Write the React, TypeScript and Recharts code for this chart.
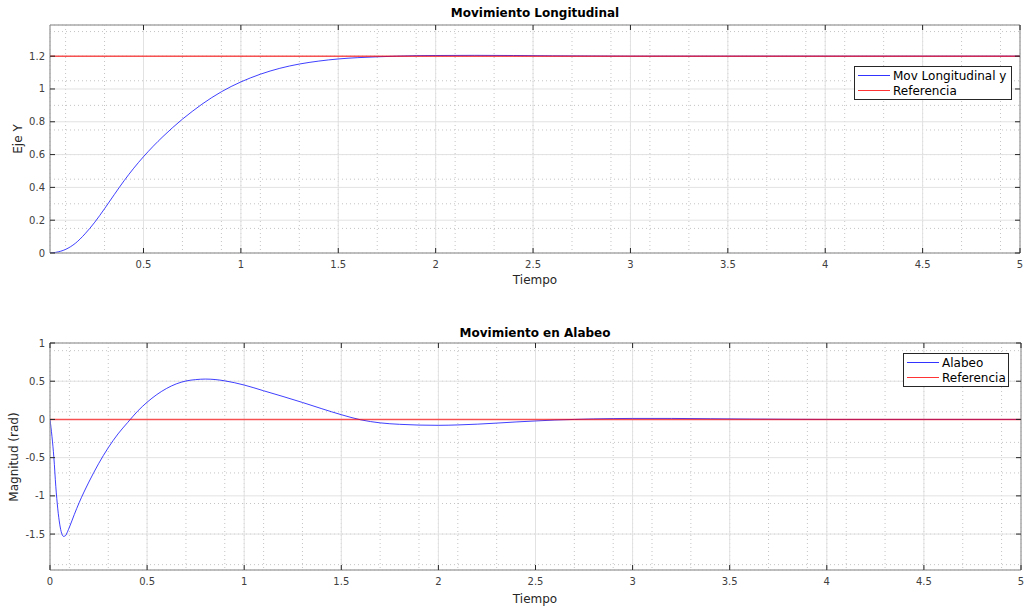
import React from "react";
import { LineChart, Line, XAxis, YAxis, CartesianGrid } from "recharts";

// Movimiento longitudinal (respuesta al escalón)
const longTime = [
  0.02, 0.05, 0.1, 0.15, 0.2, 0.25, 0.3, 0.35, 0.4, 0.45, 0.5, 0.55, 0.6, 0.65,
  0.7, 0.75, 0.8, 0.85, 0.9, 0.95, 1.0, 1.1, 1.2, 1.3, 1.4, 1.5, 1.6, 1.7, 1.8,
  1.9, 2.0, 2.2, 2.4, 2.6, 2.8, 3.0, 3.5, 4.0, 4.5, 5.0,
];
const longValues = [
  0, 0.004, 0.022, 0.059, 0.117, 0.188, 0.27, 0.356, 0.44, 0.517, 0.587, 0.651,
  0.71, 0.765, 0.816, 0.863, 0.907, 0.947, 0.983, 1.015, 1.043, 1.09, 1.126,
  1.152, 1.17, 1.183, 1.191, 1.196, 1.2, 1.203, 1.204, 1.205, 1.204, 1.202,
  1.201, 1.2, 1.2, 1.2, 1.2, 1.2,
];
const longRefTime = [0.02, 5];
const longRefValues = [1.2, 1.2];

// Movimiento en alabeo
const rollTime = [
  0, 0.01, 0.02, 0.03, 0.04, 0.05, 0.06, 0.07, 0.08, 0.09, 0.1, 0.125, 0.15,
  0.2, 0.25, 0.3, 0.35, 0.4, 0.45, 0.5, 0.55, 0.6, 0.65, 0.7, 0.75, 0.8, 0.85,
  0.9, 1.0, 1.1, 1.2, 1.3, 1.4, 1.5, 1.6, 1.7, 1.8, 1.9, 2.0, 2.1, 2.2, 2.3,
  2.4, 2.5, 2.6, 2.7, 2.8, 2.9, 3.0, 3.2, 3.4, 3.6, 3.8, 4.0, 4.5, 5.0,
];
const rollValues = [
  0, -0.22, -0.5, -0.88, -1.17, -1.37, -1.49, -1.53, -1.52, -1.47, -1.41,
  -1.245, -1.09, -0.82, -0.58, -0.37, -0.19, -0.04, 0.105, 0.225, 0.325, 0.405,
  0.465, 0.503, 0.521, 0.528, 0.522, 0.505, 0.45, 0.375, 0.3, 0.222, 0.14,
  0.062, -0.005, -0.045, -0.064, -0.074, -0.077, -0.072, -0.062, -0.048,
  -0.033, -0.02, -0.008, 0.0, 0.007, 0.011, 0.013, 0.013, 0.009, 0.005, 0.002,
  0, 0, 0,
];
const rollRefTime = [0, 5];
const rollRefValues = [0, 0];

// Ejes
const longXTicks = [0.5, 1, 1.5, 2, 2.5, 3, 3.5, 4, 4.5, 5];
const longYTicks = [0, 0.2, 0.4, 0.6, 0.8, 1, 1.2];
const rollXTicks = [0, 0.5, 1, 1.5, 2, 2.5, 3, 3.5, 4, 4.5, 5];
const rollYTicks = [-1.5, -1, -0.5, 0, 0.5, 1];

const range = (a: number, b: number, step: number) => {
  const out: number[] = [];
  for (let v = a; v <= b + 1e-9; v += step) out.push(Math.round(v * 1000) / 1000);
  return out;
};
const longMinorX = range(0.1, 4.9, 0.1);
const longMinorY = range(0.05, 1.35, 0.05);
const rollMinorX = range(0.1, 4.9, 0.1);
const rollMinorY = range(-1.9, 0.9, 0.1);

const toRows = (t: number[], y: number[]) => t.map((v, i) => ({ t: v, y: y[i] }));

const FONT = "DejaVu Sans, sans-serif";
const TICK = "#262626";
const LABEL = "#404040";
const BOX = "#8c8c8c";
const BLUE = "#0000ff";
const RED = "#ff0000";

const fmt = (v: number) => String(Math.round(v * 100) / 100);

const BottomTick = (p: any) => (
  <g>
    <line x1={p.x} x2={p.x} y1={p.y} y2={p.y - 5} stroke={TICK} />
    <text x={p.x} y={p.y + 15} textAnchor="middle" fontSize={10} fill={LABEL} fontFamily={FONT}>
      {fmt(p.payload.value)}
    </text>
  </g>
);
const TopTick = (p: any) => <line x1={p.x} x2={p.x} y1={p.y} y2={p.y + 5} stroke={TICK} />;
const LeftTick = (p: any) => (
  <g>
    <line x1={p.x} x2={p.x + 5} y1={p.y} y2={p.y} stroke={TICK} />
    <text x={p.x - 5} y={p.y} dy="0.35em" textAnchor="end" fontSize={10} fill={LABEL} fontFamily={FONT}>
      {fmt(p.payload.value)}
    </text>
  </g>
);
const RightTick = (p: any) => <line x1={p.x} x2={p.x - 5} y1={p.y} y2={p.y} stroke={TICK} />;

const LegendBox = ({ items, left, top, width }: any) => (
  <div
    style={{
      position: "absolute",
      left,
      top,
      width,
      border: "1px solid #262626",
      background: "#fff",
      fontFamily: FONT,
      fontSize: 12,
      color: "#000",
      padding: "1px 0",
      boxSizing: "border-box",
    }}
  >
    {items.map((it: any) => (
      <div key={it.name} style={{ display: "flex", alignItems: "center", height: 15 }}>
        <div style={{ flex: "none", width: 32, height: 1, marginLeft: 3, background: it.color, opacity: 0.8 }} />
        <span style={{ marginLeft: 3, whiteSpace: "nowrap" }}>{it.name}</span>
      </div>
    ))}
  </div>
);

const Text = ({ children, x, y, bold, rotate, size = 12 }: any) => (
  <div
    style={{
      position: "absolute",
      left: x,
      top: y,
      transform: `translate(-50%, -50%)${rotate ? " rotate(-90deg)" : ""}`,
      fontFamily: FONT,
      fontSize: size,
      fontWeight: bold ? "bold" : "normal",
      color: bold ? "#000" : "#262626",
      whiteSpace: "nowrap",
    }}
  >
    {children}
  </div>
);

const Panel = ({ width, height, margin, xDomain, yDomain, xTicks, yTicks, minorX, minorY, series }: any) => (
  <LineChart width={width} height={height} margin={margin}>
    <XAxis xAxisId="minor" type="number" dataKey="t" domain={xDomain} ticks={minorX} allowDataOverflow hide />
    <YAxis yAxisId="minor" type="number" domain={yDomain} ticks={minorY} allowDataOverflow hide />
    <CartesianGrid xAxisId="minor" yAxisId="minor" stroke="#c4c4c4" strokeDasharray="1 3" />
    <CartesianGrid stroke="#e2e2e2" />
    <XAxis
      type="number"
      dataKey="t"
      domain={xDomain}
      ticks={xTicks}
      interval={0}
      allowDataOverflow
      height={1}
      tickSize={0}
      tickMargin={0}
      tickLine={false}
      tick={<BottomTick />}
      axisLine={{ stroke: BOX }}
    />
    <XAxis
      xAxisId="top"
      orientation="top"
      type="number"
      dataKey="t"
      domain={xDomain}
      ticks={xTicks}
      interval={0}
      allowDataOverflow
      height={1}
      tickSize={0}
      tickMargin={0}
      tickLine={false}
      tick={<TopTick />}
      axisLine={{ stroke: BOX }}
    />
    <YAxis
      type="number"
      domain={yDomain}
      ticks={yTicks}
      interval={0}
      allowDataOverflow
      width={1}
      tickSize={0}
      tickMargin={0}
      tickLine={false}
      tick={<LeftTick />}
      axisLine={{ stroke: BOX }}
    />
    <YAxis
      yAxisId="right"
      orientation="right"
      type="number"
      domain={yDomain}
      ticks={yTicks}
      interval={0}
      allowDataOverflow
      width={1}
      tickSize={0}
      tickMargin={0}
      tickLine={false}
      tick={<RightTick />}
      axisLine={{ stroke: BOX }}
    />
    {series.map((s: any) => (
      <Line
        key={s.name}
        data={s.data}
        dataKey="y"
        name={s.name}
        type="monotone"
        stroke={s.color}
        strokeWidth={s.width}
        strokeOpacity={s.opacity}
        dot={false}
        activeDot={false}
        isAnimationActive={false}
      />
    ))}
  </LineChart>
);

const App: React.FC = () => {
  const longSeries = [
    { name: "Mov Longitudinal y", data: toRows(longTime, longValues), color: BLUE, width: 1, opacity: 0.75 },
    { name: "Referencia", data: toRows(longRefTime, longRefValues), color: RED, width: 1.5, opacity: 0.65 },
  ];
  const rollSeries = [
    { name: "Alabeo", data: toRows(rollTime, rollValues), color: BLUE, width: 1, opacity: 0.75 },
    { name: "Referencia", data: toRows(rollRefTime, rollRefValues), color: RED, width: 1.5, opacity: 0.65 },
  ];

  return (
    <div style={{ position: "absolute", left: 0, top: 0, width: 1026, height: 609, background: "#fff" }}>
      <div style={{ position: "absolute", left: 0, top: 0 }}>
        <Panel
          width={1026}
          height={300}
          margin={{ top: 24, right: 5, bottom: 46, left: 49 }}
          xDomain={[0.02, 5]}
          yDomain={[0, 1.39]}
          xTicks={longXTicks}
          yTicks={longYTicks}
          minorX={longMinorX}
          minorY={longMinorY}
          series={longSeries}
        />
      </div>
      <div style={{ position: "absolute", left: 0, top: 300 }}>
        <Panel
          width={1026}
          height={309}
          margin={{ top: 42, right: 4, bottom: 38, left: 49 }}
          xDomain={[0, 5]}
          yDomain={[-1.97, 1]}
          xTicks={rollXTicks}
          yTicks={rollYTicks}
          minorX={rollMinorX}
          minorY={rollMinorY}
          series={rollSeries}
        />
      </div>

      <Text x={535} y={13} bold>Movimiento Longitudinal</Text>
      <Text x={535} y={280}>Tiempo</Text>
      <Text x={18} y={139} rotate>Eje Y</Text>

      <Text x={535} y={333} bold>Movimiento en Alabeo</Text>
      <Text x={535} y={599}>Tiempo</Text>
      <Text x={14} y={457} rotate>Magnitud (rad)</Text>

      <LegendBox
        left={854}
        top={66}
        width={158}
        items={longSeries.map((s) => ({ name: s.name, color: s.color }))}
      />
      <LegendBox
        left={903}
        top={353}
        width={106}
        items={rollSeries.map((s) => ({ name: s.name, color: s.color }))}
      />
    </div>
  );
};

export default App;
